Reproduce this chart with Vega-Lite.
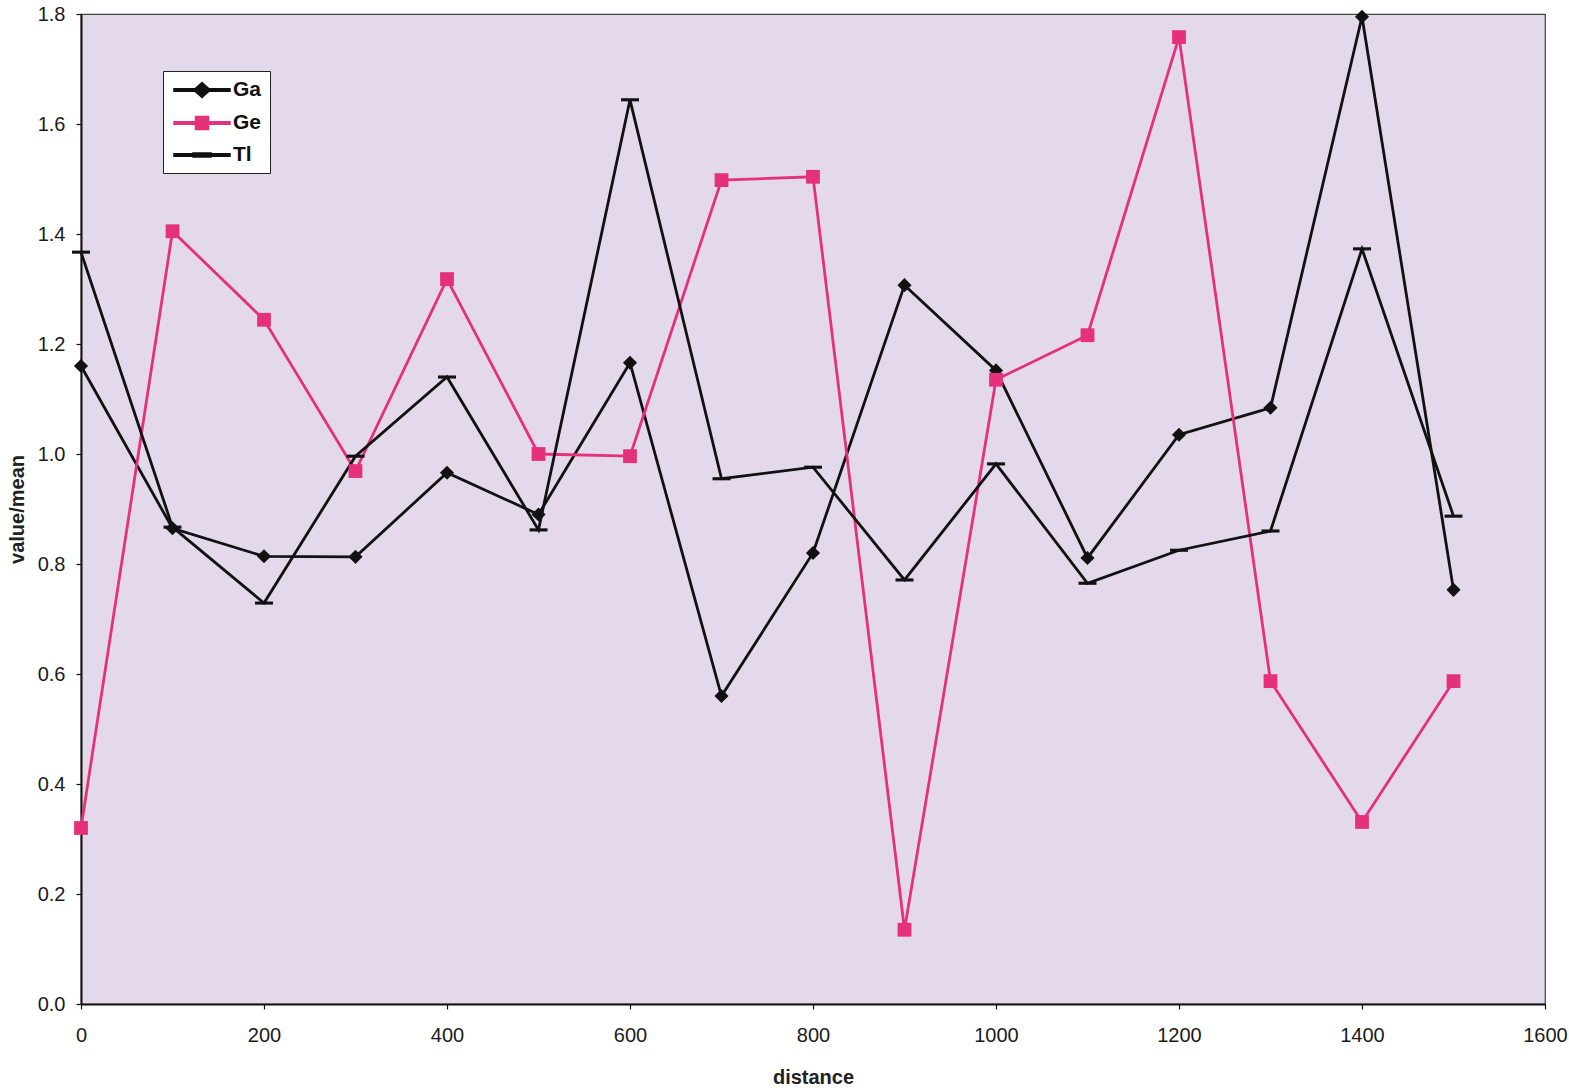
{
  "$schema": "https://vega.github.io/schema/vega-lite/v6.json",
  "width": 1464,
  "height": 990,
  "autosize": {"type": "none"},
  "padding": {"left": 81, "top": 14, "right": 24, "bottom": 87},
  "background": "#ffffff",
  "config": {
    "view": {"fill": "#e3d9ea", "stroke": "#444444", "strokeWidth": 1.2},
    "font": "Liberation Sans",
    "axis": {
      "grid": false,
      "domainColor": "#111111",
      "domainWidth": 2,
      "tickColor": "#111111",
      "tickWidth": 1.2,
      "tickSize": 5,
      "labelFont": "Liberation Sans",
      "labelFontSize": 20,
      "labelColor": "#1a1a1a",
      "titleFont": "Liberation Sans",
      "titleFontSize": 20,
      "titleFontWeight": "bold",
      "titleColor": "#222222"
    }
  },
  "data": {
    "values": [
      {"distance": 0, "series": "Ga", "value": 1.16},
      {"distance": 100, "series": "Ga", "value": 0.865},
      {"distance": 200, "series": "Ga", "value": 0.814},
      {"distance": 300, "series": "Ga", "value": 0.813},
      {"distance": 400, "series": "Ga", "value": 0.966},
      {"distance": 500, "series": "Ga", "value": 0.89},
      {"distance": 600, "series": "Ga", "value": 1.166},
      {"distance": 700, "series": "Ga", "value": 0.56},
      {"distance": 800, "series": "Ga", "value": 0.82},
      {"distance": 900, "series": "Ga", "value": 1.307},
      {"distance": 1000, "series": "Ga", "value": 1.152},
      {"distance": 1100, "series": "Ga", "value": 0.811},
      {"distance": 1200, "series": "Ga", "value": 1.035},
      {"distance": 1300, "series": "Ga", "value": 1.084},
      {"distance": 1400, "series": "Ga", "value": 1.795},
      {"distance": 1500, "series": "Ga", "value": 0.753},
      {"distance": 0, "series": "Ge", "value": 0.32},
      {"distance": 100, "series": "Ge", "value": 1.405},
      {"distance": 200, "series": "Ge", "value": 1.244},
      {"distance": 300, "series": "Ge", "value": 0.969},
      {"distance": 400, "series": "Ge", "value": 1.318},
      {"distance": 500, "series": "Ge", "value": 1.0},
      {"distance": 600, "series": "Ge", "value": 0.996},
      {"distance": 700, "series": "Ge", "value": 1.498},
      {"distance": 800, "series": "Ge", "value": 1.504},
      {"distance": 900, "series": "Ge", "value": 0.135},
      {"distance": 1000, "series": "Ge", "value": 1.135},
      {"distance": 1100, "series": "Ge", "value": 1.216},
      {"distance": 1200, "series": "Ge", "value": 1.758},
      {"distance": 1300, "series": "Ge", "value": 0.587},
      {"distance": 1400, "series": "Ge", "value": 0.331},
      {"distance": 1500, "series": "Ge", "value": 0.587},
      {"distance": 0, "series": "Tl", "value": 1.367},
      {"distance": 100, "series": "Tl", "value": 0.867},
      {"distance": 200, "series": "Tl", "value": 0.729},
      {"distance": 300, "series": "Tl", "value": 0.996},
      {"distance": 400, "series": "Tl", "value": 1.14},
      {"distance": 500, "series": "Tl", "value": 0.862},
      {"distance": 600, "series": "Tl", "value": 1.644},
      {"distance": 700, "series": "Tl", "value": 0.955},
      {"distance": 800, "series": "Tl", "value": 0.976},
      {"distance": 900, "series": "Tl", "value": 0.771},
      {"distance": 1000, "series": "Tl", "value": 0.982},
      {"distance": 1100, "series": "Tl", "value": 0.765},
      {"distance": 1200, "series": "Tl", "value": 0.825},
      {"distance": 1300, "series": "Tl", "value": 0.86},
      {"distance": 1400, "series": "Tl", "value": 1.373},
      {"distance": 1500, "series": "Tl", "value": 0.887}
    ]
  },
  "encoding": {
    "x": {
      "field": "distance",
      "type": "quantitative",
      "scale": {"domain": [0, 1600], "nice": false, "zero": false},
      "axis": {
        "title": "distance",
        "values": [0, 200, 400, 600, 800, 1000, 1200, 1400, 1600],
        "format": "d",
        "labelPadding": 16,
        "labelFlush": false,
        "labelOverlap": false,
        "titlePadding": 22
      }
    },
    "y": {
      "field": "value",
      "type": "quantitative",
      "scale": {"domain": [0, 1.8], "nice": false},
      "axis": {
        "title": "value/mean",
        "values": [0, 0.2, 0.4, 0.6, 0.8, 1.0, 1.2, 1.4, 1.6, 1.8],
        "format": ".1f",
        "labelPadding": 11,
        "labelFlush": false,
        "labelOverlap": false,
        "titlePadding": 10
      }
    }
  },
  "layer": [
    {
      "mark": {"type": "point", "filled": true, "opacity": 0, "size": 400},
      "encoding": {
        "color": {
          "field": "series",
          "type": "nominal",
          "scale": {"domain": ["Ga", "Ge", "Tl"], "range": ["#111111", "#e5307a", "#111111"]},
          "legend": {
            "title": null,
            "orient": "none",
            "legendX": 82,
            "legendY": 57,
            "fillColor": "#ffffff",
            "strokeColor": "#222222",
            "padding": 8,
            "symbolSize": 400,
            "symbolOpacity": 1,
            "symbolOffset": 20,
            "labelOffset": 20,
            "rowPadding": 11,
            "labelFont": "Liberation Sans",
            "labelFontSize": 21,
            "labelFontWeight": "bold",
            "labelColor": "#111111"
          }
        },
        "shape": {
          "field": "series",
          "type": "nominal",
          "scale": {
            "domain": ["Ga", "Ge", "Tl"],
            "range": [
              "M-2.8,-0.13H-0.7L0,-0.75L0.7,-0.13H2.8V0.13H0.7L0,0.75L-0.7,0.13H-2.8Z",
              "M-2.8,-0.13H-0.65V-0.65H0.65V-0.13H2.8V0.13H0.65V0.65H-0.65V0.13H-2.8Z",
              "M-2.8,-0.13H-0.9V-0.2H0.9V-0.13H2.8V0.13H0.9V0.2H-0.9V0.13H-2.8Z"
            ]
          }
        }
      }
    },
    {
      "mark": {"type": "line", "strokeWidth": 2.8},
      "encoding": {
        "stroke": {
          "field": "series",
          "type": "nominal",
          "scale": {"domain": ["Ga", "Ge", "Tl"], "range": ["#111111", "#e5307a", "#111111"]},
          "legend": null
        }
      }
    },
    {
      "transform": [{"filter": "datum.series === 'Ga'"}],
      "mark": {"type": "point", "filled": true, "opacity": 1, "size": 200, "shape": "diamond"},
      "encoding": {"color": {"field": "series", "type": "nominal"}}
    },
    {
      "transform": [{"filter": "datum.series === 'Ge'"}],
      "mark": {"type": "point", "filled": true, "opacity": 1, "size": 190, "shape": "square"},
      "encoding": {"color": {"field": "series", "type": "nominal"}}
    },
    {
      "transform": [{"filter": "datum.series === 'Tl'"}],
      "mark": {"type": "point", "filled": true, "opacity": 1, "size": 200, "shape": "M-1.27,-0.22H1.27V0.22H-1.27Z"},
      "encoding": {"color": {"field": "series", "type": "nominal"}}
    }
  ]
}
